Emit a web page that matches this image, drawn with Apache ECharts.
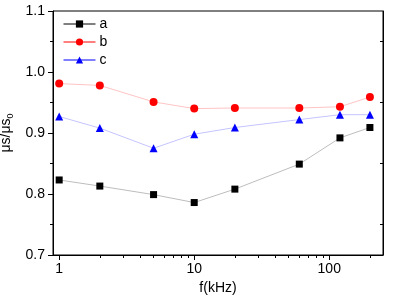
<!DOCTYPE html>
<html>
<head>
<meta charset="utf-8">
<script src="https://cdn.jsdelivr.net/npm/echarts@6/dist/echarts.min.js"></script>
<style>
  html, body { margin: 0; padding: 0; background: #fff; }
  #chart { width: 399px; height: 302px; }
</style>
</head>
<body>
<div id="chart"></div>
<script>
const freq = [1, 2, 5, 10, 20, 60, 120, 200];
const seriesA = [0.823, 0.813, 0.799, 0.786, 0.808, 0.849, 0.892, 0.909];
const seriesB = [0.981, 0.978, 0.951, 0.940, 0.941, 0.941, 0.943, 0.959];
const seriesC = [0.927, 0.908, 0.875, 0.898, 0.909, 0.922, 0.930, 0.930];
const majorX = [1, 10, 100];
const minorX = [2, 3, 4, 5, 6, 7, 8, 9, 20, 30, 40, 50, 60, 70, 80, 90, 200];
const minorYRight = [0.75, 0.85, 0.95, 1.05];

const font = 'Liberation Sans, Arial, sans-serif';
const chart = echarts.init(document.getElementById('chart'));

function pairs(ys) {
  return freq.map((f, i) => [f, ys[i]]);
}

let option = {
  animation: false,
  grid: {
    left: 53,
    right: 16,
    top: 11,
    bottom: 47,
    outerBoundsMode: 'none',
    show: true,
    borderColor: '#000',
    borderWidth: 1
  },
  legend: {
    orient: 'vertical',
    left: 63,
    top: 17,
    padding: 0,
    itemWidth: 32,
    itemHeight: 9,
    itemGap: 4,
    textStyle: { fontFamily: font, fontSize: 14, lineHeight: 14, color: '#000', padding: [0, 0, 0, -1] },
    data: [
      { name: 'a', lineStyle: { color: '#000', width: 1 } },
      { name: 'b', lineStyle: { color: '#ff0000', width: 1 } },
      { name: 'c', lineStyle: { color: '#0000ff', width: 1 } }
    ]
  },
  xAxis: [
    {
      type: 'log',
      logBase: 10,
      min: 0.9,
      max: 250,
      name: 'f(kHz)',
      nameLocation: 'middle',
      nameGap: 25,
      nameTextStyle: { fontFamily: font, fontSize: 14, color: '#000' },
      axisLine: { lineStyle: { color: '#000', width: 1 } },
      axisTick: { show: true, customValues: majorX, length: 5, lineStyle: { color: '#000' } },
      axisLabel: {
        customValues: majorX,
        fontFamily: font, fontSize: 14, color: '#000', margin: 7
      },
      splitLine: { show: false }
    },
    {
      type: 'log',
      logBase: 10,
      min: 0.9,
      max: 250,
      position: 'bottom',
      axisLine: { show: false },
      axisTick: { show: true, customValues: minorX, length: 3, lineStyle: { color: '#000' } },
      axisLabel: { show: false },
      splitLine: { show: false }
    }
  ],
  yAxis: [
    {
      type: 'value',
      min: 0.7,
      max: 1.1,
      interval: 0.1,
      name: '{m|μs/μs}{s|0}',
      nameLocation: 'middle',
      nameGap: 32,
      nameRotate: 90,
      nameTextStyle: {
        fontFamily: font, fontSize: 14, color: '#000',
        rich: {
          m: { fontFamily: font, fontSize: 14, color: '#000' },
          s: { fontFamily: font, fontSize: 9, color: '#000', padding: [8, 0, 0, 0] }
        }
      },
      axisLine: { show: true, lineStyle: { color: '#000', width: 1 } },
      axisTick: { show: true, length: 5, lineStyle: { color: '#000' } },
      minorTick: { show: true, splitNumber: 2, length: 3, lineStyle: { color: '#000' } },
      axisLabel: {
        fontFamily: font, fontSize: 14, color: '#000', margin: 8,
        formatter: v => v.toFixed(1)
      },
      splitLine: { show: false }
    },
    {
      type: 'value',
      min: 0.7,
      max: 1.1,
      position: 'right',
      axisLine: { show: true, lineStyle: { color: '#000', width: 1 } },
      axisTick: { show: true, inside: true, customValues: minorYRight, length: 3, lineStyle: { color: '#000' } },
      axisLabel: { show: false },
      splitLine: { show: false }
    }
  ],
  series: [
    {
      name: 'a',
      type: 'line',
      data: pairs(seriesA),
      symbol: 'rect',
      symbolSize: 7,
      itemStyle: { color: '#000' },
      lineStyle: { color: '#bdbdbd', width: 1 }
    },
    {
      name: 'b',
      type: 'line',
      data: pairs(seriesB),
      symbol: 'circle',
      symbolSize: 8,
      itemStyle: { color: '#ff0000' },
      lineStyle: { color: '#ffc4c4', width: 1 }
    },
    {
      name: 'c',
      type: 'line',
      data: pairs(seriesC),
      symbol: 'triangle',
      symbolSize: 8,
      itemStyle: { color: '#0000ff' },
      lineStyle: { color: '#c4c4ff', width: 1 }
    }
  ]
};

chart.setOption(option);
</script>
</body>
</html>
